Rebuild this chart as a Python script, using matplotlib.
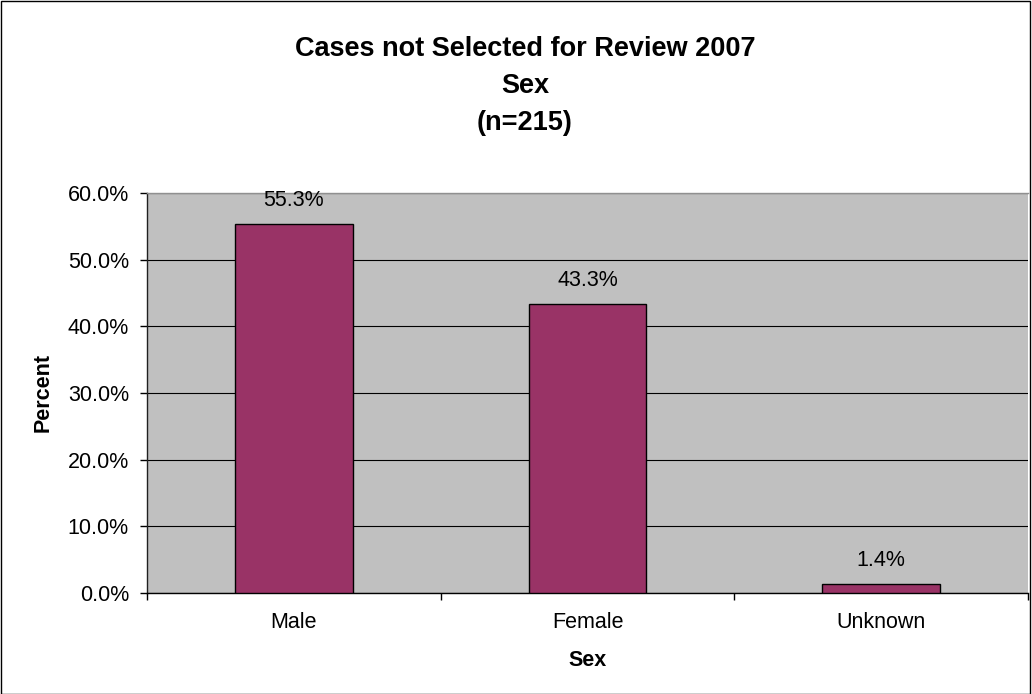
import matplotlib
matplotlib.use("Agg")
import matplotlib.pyplot as plt
from matplotlib.patches import Rectangle
from matplotlib.ticker import PercentFormatter, FixedLocator

categories = ["Male", "Female", "Unknown"]
values = [55.3, 43.3, 1.4]
value_labels = ["55.3%", "43.3%", "1.4%"]
title_lines = ["Cases not Selected for Review 2007", "Sex", "(n=215)"]

plt.rcParams['font.family'] = ['Liberation Sans', 'DejaVu Sans']

fig = plt.figure(figsize=(10.32, 6.94), dpi=100)
ax = fig.add_axes([147/1032, 1 - 593/694, (1028-147)/1032, (593-193)/694])
ax.set_facecolor('#C0C0C0')

x = list(range(len(categories)))
ax.bar(x, values, width=0.40, color='#993366', edgecolor='black', linewidth=1.0, zorder=3)

for xi, v, lab in zip(x, values, value_labels):
    ax.annotate(lab, (xi, v), xytext=(0, 17), textcoords='offset points',
                ha='center', va='center', fontsize=15.5, color='black', zorder=4)

ax.set_xlim(-0.5, 2.5)
ax.set_ylim(0, 60)
ax.set_yticks([0, 10, 20, 30, 40, 50, 60])
ax.yaxis.set_major_formatter(PercentFormatter(decimals=1))
ax.set_xticks(x)
ax.set_xticklabels(categories)
ax.xaxis.set_minor_locator(FixedLocator([-0.5, 0.5, 1.5, 2.5]))
ax.tick_params(axis='x', which='major', length=0, pad=14, labelsize=15.5)
ax.tick_params(axis='x', which='minor', length=5, width=1, direction='out', color='black')
ax.tick_params(axis='y', which='major', length=5, width=1, direction='out', pad=8, labelsize=15.5)

ax.grid(axis='y', color='black', linewidth=0.8)
ax.set_axisbelow(True)

ax.spines['right'].set_visible(False)
ax.spines['top'].set_color('#909090')
ax.spines['left'].set_color('#202020')
ax.spines['bottom'].set_color('black')
for s in ['top', 'left', 'bottom']:
    ax.spines[s].set_linewidth(1.0)

ax.set_ylabel("Percent", fontsize=15.5, fontweight='bold')
ax.yaxis.set_label_coords((43 - 147) / 881, 0.5)
ax.yaxis.label.set_verticalalignment('center')
ax.set_xlabel("Sex", fontsize=15.5, fontweight='bold')
ax.xaxis.set_label_coords(0.5, (593 - 660) / 400)
ax.xaxis.label.set_verticalalignment('center')

fig.text(525/1032, 1 - 86/694, "\n".join(title_lines), ha='center', va='center',
         fontsize=19.5, fontweight='bold', linespacing=1.55)

fig.patches.append(Rectangle((0.0005, 0.0007), 0.998, 0.998, transform=fig.transFigure,
                             fill=False, edgecolor='black', linewidth=1.0))

fig.savefig("out.png", dpi=100)
